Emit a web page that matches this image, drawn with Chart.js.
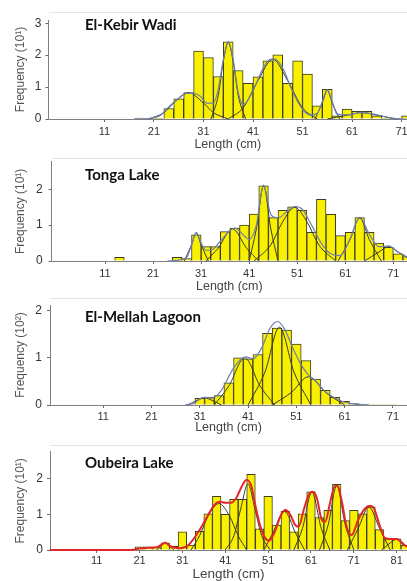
<!DOCTYPE html>
<html><head><meta charset="utf-8">
<script src="https://cdn.jsdelivr.net/npm/chart.js@4.4.1/dist/chart.umd.min.js"></script>
<style>
html,body{margin:0;padding:0;background:#fff;width:407px;height:581px;overflow:hidden;position:relative}
.pc{position:absolute;left:0}
.ttl{position:absolute;font-family:Lato,'Noto Sans',sans-serif;font-weight:bold;font-size:15px;line-height:15px;color:#111;white-space:nowrap}
.tl{position:absolute;height:1px;background:#e4e4e4;right:0}
</style></head><body>
<script>
// ---------- DATA ----------
const names = ['El-Kebir Wadi', 'Tonga Lake', 'El-Mellah Lagoon', 'Oubeira Lake'];
const yTitles = ['Frequency (10\u00b9)', 'Frequency (10\u00b9)', 'Frequency (10\u00b2)', 'Frequency (10\u00b9)'];
const xTitle = 'Length (cm)';
const xTicksA = [11, 21, 31, 41, 51, 61, 71];
const xTicksB = [11, 21, 31, 41, 51, 61, 71, 81];
const yTicks3 = [0, 1, 2, 3];
const yTicks2 = [0, 1, 2];

// El-Kebir Wadi
const bins1 = [18,20,22,24,26,28,30,32,34,36,38,40,42,44,46,48,50,52,54,56,58,60,62,64,66,68,70,72];
const freq1 = [0.03,0.01,0.01,0.33,0.63,0.83,2.13,1.92,1.33,2.42,1.52,1.12,1.32,1.82,2.01,1.12,1.82,1.41,0.41,0.93,0.1,0.31,0.24,0.24,0.1,0.03,0.02,0.1];
const comp1a = [[20,0],[23,0.2],[25,0.5],[28,0.82],[31,0.5],[33,0.2],[36,0]];
const comp1b = [[32.5,0],[34,0.75],[35,1.8],[36,2.4],[37,1.8],[38,0.75],[39.5,0]];
const comp1c = [[36,0],[39,0.35],[42,1.2],[45,1.87],[48,1.2],[51,0.35],[54,0]];
const comp1d = [[53.5,0],[55,0.5],[56,0.9],[57,0.5],[58.5,0]];
const comp1e = [[56,0],[60,0.12],[63,0.2],[66,0.12],[70,0]];
const env1 = [[17,0],[21,0.04],[22.2,0.1],[23.5,0.3],[25.6,0.6],[27.6,0.8],[29,0.8],[30.3,0.72],[31.7,0.5],[33,0.5],[34,0.95],[35,1.85],[36,2.42],[37,1.85],[38,0.85],[39,0.45],[40,0.6],[41.2,0.95],[42.6,1.45],[43.9,1.8],[45,1.88],[46,1.82],[47.3,1.5],[48.6,1.0],[50,0.55],[51.3,0.25],[52.7,0.12],[54,0.18],[55,0.55],[56,0.92],[57,0.55],[58,0.15],[60,0.13],[63,0.21],[66,0.13],[69,0.03],[72,0]];

// Tonga Lake
const bins2 = [14,26,28,30,32,34,36,38,40,42,44,46,48,50,52,54,56,58,60,62,64,66,68,70,72,74];
const freq2 = [0.1,0.1,0.07,0.73,0.4,0.4,0.82,0.92,1.0,1.31,2.1,1.21,1.41,1.51,1.41,0.8,1.72,1.3,0.71,0.8,1.21,0.8,0.5,0.38,0.2,0.12];
const comp2a = [[27.5,0],[29,0.45],[30,0.78],[31,0.45],[32.5,0]];
const comp2b = [[32,0],[34.5,0.35],[37.5,0.9],[40.5,0.35],[43,0]];
const comp2c = [[41,0],[42.5,0.9],[44,2.1],[45.5,0.9],[47,0]];
const comp2d = [[42,0],[45.5,0.45],[48,1.1],[50.5,1.5],[53,1.1],[55.5,0.45],[59,0]];
const comp2e = [[59.5,0],[62,0.6],[64,1.2],[66,0.6],[68.5,0]];
const comp2f = [[65,0],[68,0.25],[70,0.4],[72,0.25],[75,0]];
const env2 = [[24,0],[26,0.02],[28,0.1],[29,0.45],[30,0.8],[31,0.5],[32,0.3],[33,0.3],[35,0.55],[37,0.85],[38,0.92],[40,0.7],[41,0.6],[42.5,1.0],[44,2.12],[45.5,1.3],[47,1.2],[49,1.4],[50.5,1.52],[52,1.45],[54,1.0],[56,0.5],[58,0.2],[60,0.15],[62,0.62],[64,1.22],[66,0.75],[68,0.4],[70,0.42],[72,0.25],[74,0.1]];

// El-Mellah Lagoon
const bins3 = [29,31,33,35,37,39,41,43,45,47,49,51,53,55,57,59,61,63,65,67,69,71];
const freq3 = [0.01,0.14,0.17,0.2,0.47,1.0,0.98,1.07,1.52,1.63,1.59,1.29,0.94,0.55,0.31,0.16,0.08,0.03,0.02,0.01,0.01,0.01];
const comp3a = [[28.5,0],[30.5,0.1],[32,0.15],[33.5,0.1],[35.5,0]];
const comp3b = [[34,0],[37,0.4],[40.3,1.0],[43.5,0.4],[46.5,0]];
const comp3c = [[41,0],[44.5,0.7],[47.5,1.65],[50.5,0.7],[54,0]];
const comp3d = [[46,0],[50,0.27],[53.5,0.6],[57,0.27],[61,0]];
const env3 = [[28,0],[30,0.05],[31,0.13],[32,0.16],[33.5,0.14],[35.4,0.3],[37.8,0.75],[39.5,0.97],[40.5,1.02],[42,0.98],[44,1.25],[45.4,1.6],[47.1,1.77],[48.5,1.62],[50.3,1.2],[52,0.85],[53.4,0.65],[55.1,0.5],[56.8,0.3],[58.6,0.17],[60.7,0.07],[63,0.02],[66,0]];

// Oubeira Lake
const bins4 = [21,23,25,27,29,31,33,35,37,39,41,43,45,47,49,51,53,55,57,59,61,63,65,67,69,71,73,75,77,79,81,83];
const freq4 = [0.09,0.09,0.07,0.2,0.1,0.51,0.14,0.52,1.01,1.5,1.0,1.42,1.42,2.12,0.59,1.5,0.7,1.08,0.51,1.01,1.63,0.91,1.11,1.84,0.82,1.11,1.01,1.21,0.57,0.31,0.31,0.13];
const comp4a = [[25,0],[26,0.12],[27,0.2],[28,0.12],[29,0]];
const comp4b = [[33,0],[35,0.4],[37,0.95],[39.5,1.3],[42,0.95],[44,0.4],[46,0]];
const comp4c = [[41,0],[43,0.4],[44.5,1.1],[46.3,1.85],[48,1.1],[49.5,0.4],[51.5,0]];
const comp4d = [[50,0],[52,0.45],[54.8,1.08],[57.5,0.45],[59.5,0]];
const comp4e = [[57,0],[59,0.6],[61.2,1.62],[63.4,0.6],[65.4,0]];
const comp4f = [[63,0],[65,0.7],[67,1.8],[69,0.7],[71,0]];
const comp4g = [[69.5,0],[72,0.6],[74.5,1.2],[77,0.6],[79.5,0]];
const comp4h = [[77.5,0],[79.5,0.2],[81,0.3],[82.5,0.2],[84,0]];
const env4 = [[0.1,0],[19,0],[21,0.04],[23,0.06],[25,0.08],[26,0.14],[27,0.2],[28,0.12],[29,0.07],[30.5,0.05],[32.5,0.15],[35,0.56],[37,0.98],[38.5,1.27],[39.7,1.35],[41,1.32],[42.3,1.32],[43.5,1.44],[44.7,1.74],[45.9,1.96],[47,1.82],[48,1.26],[49,0.74],[50.1,0.37],[51.2,0.26],[52.4,0.47],[54,0.98],[55,1.12],[56.2,0.98],[57.3,0.7],[58.1,0.65],[59.3,1.12],[60.5,1.55],[61.4,1.63],[62.4,1.44],[63.4,0.88],[64.3,0.79],[65.5,1.35],[66.6,1.8],[67.2,1.8],[68.2,1.35],[69.3,0.65],[70.5,0.42],[72,0.84],[73.6,1.16],[74.7,1.24],[75.7,1.16],[77,0.7],[78.2,0.34],[79.8,0.31],[81,0.31],[82.5,0.16],[83.4,0.09]];

// ---------- LAYOUT (pixel placement of each panel) ----------
const panels = [
  {bins: bins1, freq: freq1, comps: [comp1a,comp1b,comp1c,comp1d,comp1e], env: env1, envColor: '#6f7fae', envW: 1.2,
   xt: xTicksA, yt: yTicks3, T: 0, top: 20, base: 119, left: 48.5, xmin: -0.3, xmax: 72.1, ymax: 3.1,
   tickPad: 3, yPad: 4, titleY: 145, lineY: 11.7, nameY: 25, xFont: 12.5},
  {bins: bins2, freq: freq2, comps: [comp2a,comp2b,comp2c,comp2d,comp2e,comp2f], env: env2, envColor: '#6f7fae', envW: 1.2,
   xt: xTicksA, yt: yTicks2, T: 150, top: 161.7, base: 261, left: 51.7, xmin: -0.1, xmax: 73.85, ymax: 2.77,
   tickPad: 3.3, yPad: 6, titleY: 286.7, lineY: 157.7, nameY: 175, xFont: 12.5},
  {bins: bins3, freq: freq3, comps: [comp3a,comp3b,comp3c,comp3d], env: env3, envColor: '#6f7fae', envW: 1.2,
   xt: xTicksA, yt: yTicks2, T: 292, top: 305, base: 405, left: 50, xmin: 0, xmax: 73.9, ymax: 2.12,
   tickPad: 2, yPad: 5, titleY: 428, lineY: 298.3, nameY: 316.7, xFont: 12.5},
  {bins: bins4, freq: freq4, comps: [comp4a,comp4b,comp4c,comp4d,comp4e,comp4f,comp4g,comp4h], env: env4, envColor: '#e3262b', envW: 2,
   xt: xTicksB, yt: yTicks2, T: 432, top: 451.7, base: 550, left: 50, xmin: 0.1, xmax: 83.4, ymax: 2.75,
   tickPad: 1, yPad: 4, titleY: 574, lineY: 445, nameY: 462.7, xFont: 13.5}
];

panels.forEach((p, i) => {
  const line = document.createElement('div');
  line.className = 'tl';
  line.style.left = p.left + 'px';
  line.style.top = Math.round(p.lineY) + 'px';
  document.body.appendChild(line);

  const lh = p.xFont * 1.2;
  const H = Math.round(p.titleY - p.T + lh / 2 + 2);
  const xH = p.T + H - p.base;
  const pb = p.T + H - p.titleY - lh / 2;

  const cv = document.createElement('canvas');
  cv.className = 'pc';
  cv.width = 407; cv.height = H;
  cv.style.top = p.T + 'px';
  cv.style.width = '407px'; cv.style.height = H + 'px';
  document.body.appendChild(cv);

  const datasets = [];
  datasets.push({type: 'line', data: p.env.map(([x, y]) => ({x, y})), borderColor: p.envColor, borderWidth: p.envW,
    pointRadius: 0, cubicInterpolationMode: 'monotone', fill: false, order: 1, clip: false});
  p.comps.forEach(c => datasets.push({type: 'line', data: c.map(([x, y]) => ({x, y})), borderColor: '#3a3a30', borderWidth: 1,
    pointRadius: 0, cubicInterpolationMode: 'monotone', fill: false, order: 2, clip: false}));
  datasets.push({type: 'bar', data: p.bins.map((b, k) => ({x: b, y: p.freq[k]})), backgroundColor: '#f9f000',
    borderColor: '#3c3c1e', borderWidth: 1, barPercentage: 1, categoryPercentage: 1, order: 10});

  new Chart(cv, {
    type: 'bar',
    data: {datasets},
    options: {
      responsive: false, animation: false, events: [],
      layout: {padding: {top: p.top - p.T, left: 0, right: 0, bottom: 0}},
      plugins: {legend: {display: false}, tooltip: {enabled: false}},
      scales: {
        x: {type: 'linear', min: p.xmin, max: p.xmax, offset: false,
          afterBuildTicks: s => { s.ticks = p.xt.map(v => ({value: v})); },
          afterFit: s => { s.height = xH; s.paddingLeft = 0; s.paddingRight = 0; },
          ticks: {autoSkip: false, maxRotation: 0, padding: p.tickPad, color: '#333', font: {family: 'Liberation Sans', size: 11}},
          grid: {display: true, drawOnChartArea: false, drawTicks: true, tickLength: 3, color: '#666', offset: false},
          border: {display: true, color: '#808080', width: 1},
          title: {display: true, text: xTitle, color: '#444', font: {family: 'Liberation Sans', size: p.xFont}, padding: {top: 0, bottom: pb}}
        },
        y: {type: 'linear', min: 0, max: p.ymax,
          afterBuildTicks: s => { s.ticks = p.yt.map(v => ({value: v})); },
          afterFit: s => { s.width = p.left; s.paddingTop = 0; s.paddingBottom = 0; },
          ticks: {padding: p.yPad, color: '#333', font: {family: 'Liberation Sans', size: 12}},
          grid: {display: true, drawOnChartArea: false, drawTicks: true, tickLength: 3, color: '#666'},
          border: {display: true, color: '#808080', width: 1},
          title: {display: true, text: yTitles[i], color: '#555', font: {family: 'Liberation Sans', size: 12}, padding: {top: 13.5, bottom: 0}}
        }
      }
    }
  });

  const t = document.createElement('div');
  t.className = 'ttl';
  t.textContent = names[i];
  t.style.left = '85px';
  t.style.top = (p.nameY - 7.9) + 'px';
  document.body.appendChild(t);
});
</script>
</body></html>
